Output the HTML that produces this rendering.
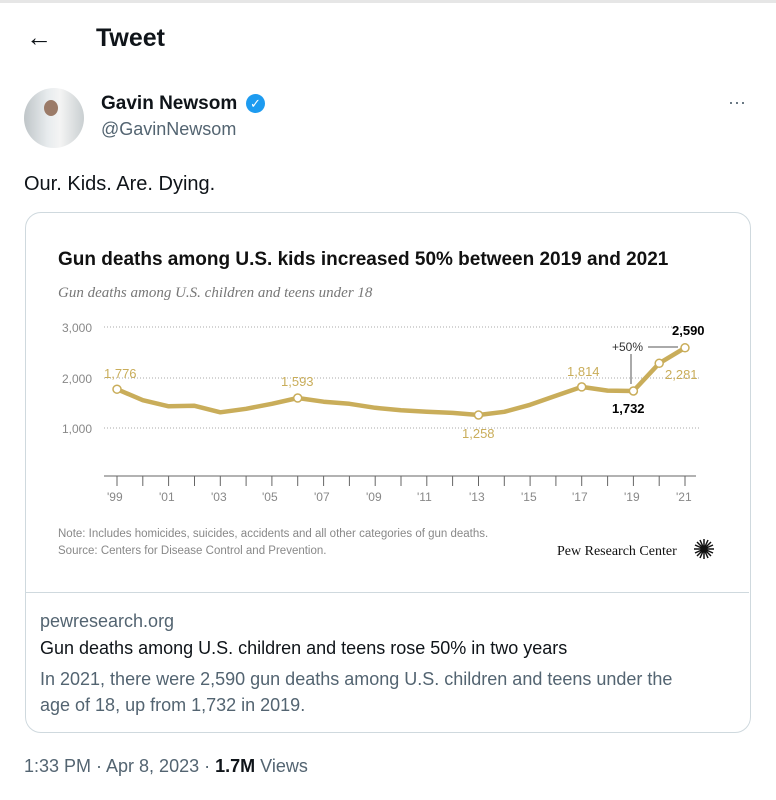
<!DOCTYPE html><html><head><meta charset="utf-8"><style>
body{margin:0;width:776px;height:800px;background:#fff;font-family:"Liberation Sans",sans-serif;position:relative;overflow:hidden;color:#0f1419}
.a{position:absolute;white-space:nowrap}
</style></head><body>
<div class="a" style="left:0;top:0;width:776px;height:3px;background:#e6e6e6"></div>
<div class="a" style="left:26px;top:22px;font-size:26px">←</div>
<div class="a" style="left:96px;top:24px;font-size:25px;font-weight:bold">Tweet</div>
<div class="a" style="left:24px;top:88px;width:60px;height:60px;border-radius:50%;background:linear-gradient(90deg,#bfc5c8,#e8ecee 40%,#f4f4f4 60%,#c9cfd1)"></div>
<div class="a" style="left:44px;top:100px;width:14px;height:16px;border-radius:50%;background:#9b7b68"></div>
<div class="a" style="left:101px;top:93px;font-size:19px;font-weight:bold">Gavin Newsom</div>
<div class="a" style="left:246px;top:94px;width:19px;height:19px;border-radius:50%;background:#1d9bf0;color:#fff;font-size:13px;text-align:center;line-height:19px">✓</div>
<div class="a" style="left:101px;top:119px;font-size:18px;color:#536471">@GavinNewsom</div>
<div class="a" style="left:728px;top:92px;font-size:18px;color:#536471">···</div>
<div class="a" style="left:24px;top:173px;font-size:20px">Our. Kids. Are. Dying.</div>
<div class="a" style="left:25px;top:212px;width:724px;height:519px;border:1px solid #cfd9de;border-radius:16px"></div>
<div class="a" style="left:26px;top:592px;width:723px;height:1px;background:#cfd9de"></div>
<div class="a" style="left:58px;top:249px;font-size:19px;font-weight:bold;color:#111">Gun deaths among U.S. kids increased 50% between 2019 and 2021</div>
<div class="a" style="left:58px;top:285px;font-size:15px;font-style:italic;font-family:'Liberation Serif',serif;color:#777">Gun deaths among U.S. children and teens under 18</div>
<svg class="a" style="left:0;top:0" width="776" height="600" font-family="Liberation Sans" font-size="12">
<g stroke="#aaa" stroke-dasharray="1,2" stroke-width="1"><line x1="104" y1="327" x2="700" y2="327"/><line x1="104" y1="378" x2="700" y2="378"/><line x1="104" y1="428" x2="700" y2="428"/></g>
<g fill="#888"><text x="62" y="332">3,000</text><text x="62" y="383">2,000</text><text x="62" y="433">1,000</text></g>
<line x1="104" y1="476" x2="696" y2="476" stroke="#666"/>
<path d="M117,389.2 L142.8,400.2 168.6,406.3 194.5,405.8 220.3,412.3 246.1,408.8 271.9,403.8 297.7,398 323.6,401.7 349.4,403.8 375.2,407.8 401,410.3 426.8,411.8 452.6,412.9 478.5,415 504.3,411.8 530.1,404.8 555.9,395.7 581.7,386.9 607.6,390.6 633.4,391 659.2,363.3 685,347.8" fill="none" stroke="#c9ad5a" stroke-width="4.5" stroke-linejoin="round"/>
<line x1="631" y1="354" x2="631" y2="384" stroke="#555"/><line x1="648" y1="347" x2="678" y2="347" stroke="#555"/>
<g fill="#fff" stroke="#c9ad5a" stroke-width="1.5"><circle cx="117" cy="389.2" r="4"/><circle cx="297.7" cy="398" r="4"/><circle cx="478.5" cy="415" r="4"/><circle cx="581.7" cy="386.9" r="4"/><circle cx="633.4" cy="391" r="4"/><circle cx="659.2" cy="363.3" r="4"/><circle cx="685" cy="347.8" r="4"/></g>
<g fill="#c9ad5a" font-size="13"><text x="104" y="378">1,776</text><text x="281" y="386">1,593</text><text x="462" y="438">1,258</text><text x="567" y="376">1,814</text><text x="665" y="379">2,281</text></g>
<text x="612" y="351" fill="#333" font-size="12">+50%</text>
<text x="672" y="335" font-weight="bold" font-size="13">2,590</text>
<text x="612" y="413" font-weight="bold" font-size="13">1,732</text>
<g fill="#888" font-size="12"><text x="107" y="501">'99</text><text x="159" y="501">'01</text><text x="211" y="501">'03</text><text x="262" y="501">'05</text><text x="314" y="501">'07</text><text x="366" y="501">'09</text><text x="417" y="501">'11</text><text x="469" y="501">'13</text><text x="521" y="501">'15</text><text x="572" y="501">'17</text><text x="624" y="501">'19</text><text x="676" y="501">'21</text></g>
<g stroke="#666">
<path d="M117,476v10M142.8,476v10M168.6,476v10M194.5,476v10M220.3,476v10M246.1,476v10M271.9,476v10M297.7,476v10M323.6,476v10M349.4,476v10M375.2,476v10M401,476v10M426.8,476v10M452.6,476v10M478.5,476v10M504.3,476v10M530.1,476v10M555.9,476v10M581.7,476v10M607.6,476v10M633.4,476v10M659.2,476v10M685,476v10"/></g>
<g fill="#888" font-size="11.5"><text x="58" y="537">Note: Includes homicides, suicides, accidents and all other categories of gun deaths.</text><text x="58" y="554">Source: Centers for Disease Control and Prevention.</text></g>
<text x="557" y="555" font-family="Liberation Serif" font-size="14" fill="#111">Pew Research Center</text>
<g stroke="#111" stroke-width="1.5"><path d="M704,539v20M694,549h20M697,542l14,14M711,542l-14,14M700,540l8,18M708,540l-8,18M695,545l18,8M713,545l-18,8"/></g>
</svg>
<div class="a" style="left:40px;top:611px;font-size:18px;color:#536471">pewresearch.org</div>
<div class="a" style="left:40px;top:638px;font-size:18px">Gun deaths among U.S. children and teens rose 50% in two years</div>
<div class="a" style="left:40px;top:666px;font-size:18px;color:#536471;line-height:26px">In 2021, there were 2,590 gun deaths among U.S. children and teens under the<br>age of 18, up from 1,732 in 2019.</div>
<div class="a" style="left:24px;top:756px;font-size:18px;color:#536471">1:33 PM · Apr 8, 2023 · <b style="color:#0f1419">1.7M</b> Views</div>
</body></html>
